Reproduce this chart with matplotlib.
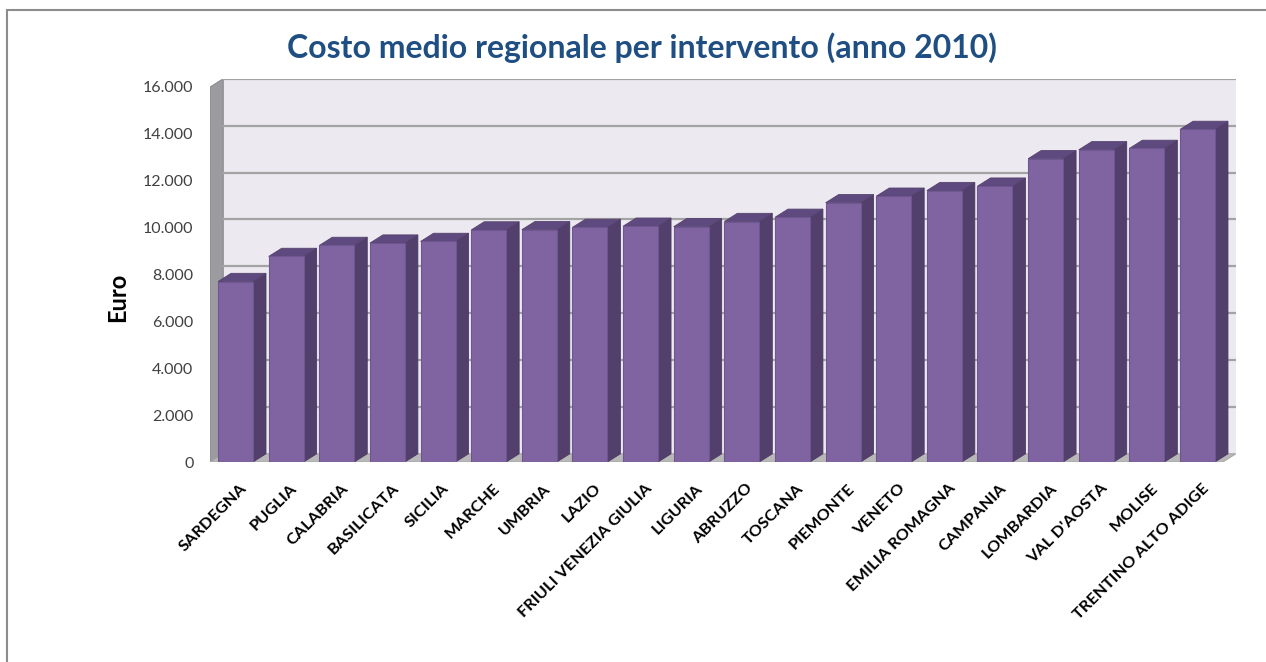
import matplotlib
matplotlib.use("Agg")
import matplotlib.pyplot as plt
from matplotlib.patches import Polygon, Rectangle
from matplotlib.ticker import FuncFormatter
from matplotlib.transforms import ScaledTranslation

# Dati: costo medio per intervento, anno 2010
regioni = ['SARDEGNA', 'PUGLIA', 'CALABRIA', 'BASILICATA', 'SICILIA', 'MARCHE',
           'UMBRIA', 'LAZIO', 'FRIULI VENEZIA GIULIA', 'LIGURIA', 'ABRUZZO',
           'TOSCANA', 'PIEMONTE', 'VENETO', 'EMILIA ROMAGNA', 'CAMPANIA',
           'LOMBARDIA', "VAL D'AOSTA", 'MOLISE', 'TRENTINO ALTO ADIGE']
costo = [7700, 8770, 9240, 9340, 9410, 9900, 9910, 10010, 10060, 10040, 10260,
         10440, 11060, 11340, 11580, 11770, 12940, 13320, 13380, 14190]
y_ticks = [0, 2000, 4000, 6000, 8000, 10000, 12000, 14000, 16000]

plt.rcParams['font.family'] = ['Lato', 'DejaVu Sans']

fig = plt.figure(figsize=(12.66, 6.62), dpi=100)

# cornice esterna del grafico
fig.patches.append(Rectangle((7 / 1266, -0.05), 1.1, 1 - 10 / 662 + 0.05,
                             transform=fig.transFigure, fill=False,
                             edgecolor='#8c8c8c', linewidth=1.5))

# profondita' finta 3D (in unita' dati)
dx = 0.257
dy = 350
ymax = 16000
n = len(regioni)
px_per_y = 375 / 16000
px_per_x = 50.63

ax_left = 210.2 / 1266
ax_bottom = (662 - 462) / 662
ax_w = (n + dx) * px_per_x / 1266
ax_h = (ymax + dy) * px_per_y / 662
ax = fig.add_axes([ax_left, ax_bottom, ax_w, ax_h])
ax.set_xlim(-0.5, n - 0.5 + dx)
ax.set_ylim(0, ymax + dy)
for s in ax.spines.values():
    s.set_visible(False)
ax.patch.set_alpha(0)

x0, x1 = -0.5, n - 0.5

# parete di fondo
ax.add_patch(Polygon([(x0 + dx, dy), (x1 + dx, dy), (x1 + dx, ymax + dy), (x0 + dx, ymax + dy)],
                     closed=True, facecolor='#eceaf0', edgecolor='none', zorder=0))
# parete sinistra
ax.add_patch(Polygon([(x0, 0), (x0 + dx, dy), (x0 + dx, ymax + dy), (x0, ymax)],
                     closed=True, facecolor='#9c9ba0', edgecolor='#8a898e', lw=0.8, zorder=1))
# griglia sulla parete di fondo
for t in y_ticks[1:]:
    ax.plot([x0 + dx, x1 + dx], [t + dy, t + dy], color='#a3a3a3', lw=1.6, zorder=1)
# pavimento
ax.add_patch(Polygon([(x0, 0), (x1, 0), (x1 + dx, dy), (x0 + dx, dy)],
                     closed=True, facecolor='#b8b8b8', edgecolor='#a8a8a8', lw=0.8, zorder=1))

# barre 3D
bw = 0.69
for i, v in enumerate(costo):
    l, r = i - bw / 2, i + bw / 2
    ax.add_patch(Polygon([(r, 0), (r + dx, dy), (r + dx, v + dy), (r, v)],
                         closed=True, facecolor='#523f6c', edgecolor='#4a3a62', lw=0.6, zorder=3))
    ax.add_patch(Polygon([(l, v), (r, v), (r + dx, v + dy), (l + dx, v + dy)],
                         closed=True, facecolor='#5f4a7f', edgecolor='#56436f', lw=0.6, zorder=3))
ax.bar(range(n), costo, width=bw, color='#8064a2', edgecolor='#6f5690', linewidth=0.8, zorder=4)

ax.set_yticks(y_ticks)
ax.yaxis.set_major_formatter(FuncFormatter(lambda v, p: f'{int(v):,}'.replace(',', '.')))
ax.tick_params(axis='y', length=0, pad=12, labelsize=11.5, labelcolor='#404040')
ax.set_xticks(range(n))
ax.set_xticklabels(regioni, rotation=45, ha='right', va='top', rotation_mode='anchor',
                   fontsize=11.8, fontweight='bold')
ax.tick_params(axis='x', length=0, pad=14)
for lbl in ax.get_xticklabels():
    lbl.set_transform(lbl.get_transform() + ScaledTranslation(4 / 100, 0, fig.dpi_scale_trans))

fig.text(118 / 1266, 1 - 297 / 662, 'Euro', rotation=90, ha='center', va='center',
         fontsize=17, fontweight='bold')
fig.text(642 / 1266, 1 - 48 / 662, 'Costo medio regionale per intervento (anno 2010)',
         ha='center', va='center', fontsize=23, fontweight='bold', color='#1f4e82')

fig.savefig('out.png', dpi=100)
